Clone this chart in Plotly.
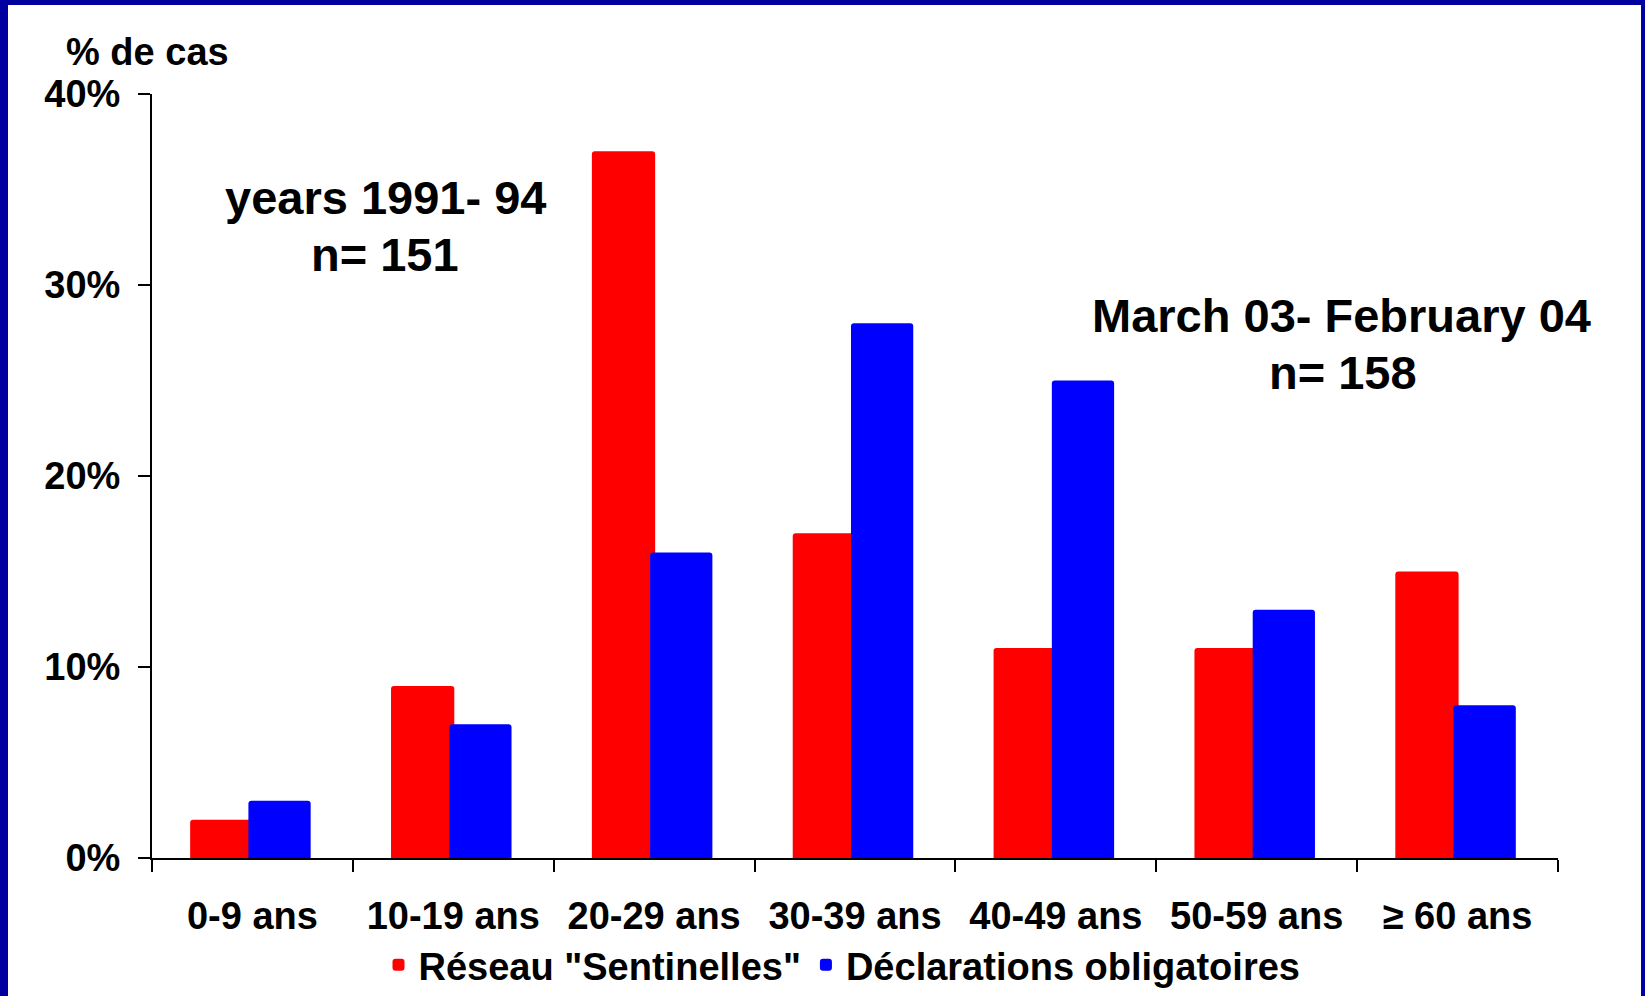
import plotly.graph_objects as go

# ---- data ----
categories = ["0-9 ans", "10-19 ans", "20-29 ans", "30-39 ans", "40-49 ans", "50-59 ans", "≥ 60 ans"]
sentinelles = [2, 9, 37, 17, 11, 11, 15]
declarations = [3, 7, 16, 28, 25, 13, 8]
y_ticks = [0, 10, 20, 30, 40]
y_tick_labels = [f"{v}%" for v in y_ticks]
series_names = ['Réseau "Sentinelles"', "Déclarations obligatoires"]
label_left = ["years 1991- 94", "n= 151"]
label_right = ["March 03- February 04", "n= 158"]

# ---- layout geometry (pixels) ----
W, H = 1645, 996
ML, MR, MT, MB = 152, 87, 94, 138
PW, PH = W - ML - MR, H - MT - MB

def px_x(px):
    return (px - ML) / PW

def px_y(py):
    return (H - MB - py) / PH

FONT = "Liberation Sans, Arial, Helvetica, sans-serif"
RED = "#FF0000"
BLUE = "#0000FF"
BORDER = "#0000A0"

fig = go.Figure()
fig.add_trace(go.Bar(
    x=categories, y=sentinelles, name=series_names[0],
    marker=dict(color=RED, line=dict(width=0), cornerradius=3),
    width=0.315, offset=-0.31,
))
fig.add_trace(go.Bar(
    x=categories, y=declarations, name=series_names[1],
    marker=dict(color=BLUE, line=dict(width=0), cornerradius=3),
    width=0.31, offset=-0.02,
))

ann_font = dict(family=FONT, size=47, color="black", weight="bold")
annotations = [
    dict(text="% de cas", xref="paper", yref="paper", x=px_x(64), y=px_y(52),
         xanchor="left", yanchor="middle", showarrow=False,
         font=dict(family=FONT, size=38, color="black", weight="bold")),
    dict(text=label_left[0], xref="paper", yref="paper", x=px_x(385), y=px_y(197),
         xanchor="center", yanchor="middle", showarrow=False, font=ann_font),
    dict(text=label_left[1], xref="paper", yref="paper", x=px_x(385), y=px_y(254),
         xanchor="center", yanchor="middle", showarrow=False, font=ann_font),
    dict(text=label_right[0], xref="paper", yref="paper", x=px_x(1341), y=px_y(315),
         xanchor="center", yanchor="middle", showarrow=False, font=ann_font),
    dict(text=label_right[1], xref="paper", yref="paper", x=px_x(1343), y=px_y(372),
         xanchor="center", yanchor="middle", showarrow=False, font=ann_font),
]

shapes = [
    # top border
    dict(type="rect", xref="paper", yref="paper", x0=px_x(-10), x1=px_x(W + 10),
         y0=px_y(5), y1=px_y(-10), fillcolor=BORDER, line=dict(width=0), layer="above"),
    # left border
    dict(type="rect", xref="paper", yref="paper", x0=px_x(-10), x1=px_x(8),
         y0=px_y(H + 10), y1=px_y(-10), fillcolor=BORDER, line=dict(width=0), layer="above"),
    # right border
    dict(type="rect", xref="paper", yref="paper", x0=px_x(1641), x1=px_x(W + 10),
         y0=px_y(H + 10), y1=px_y(-10), fillcolor=BORDER, line=dict(width=0), layer="above"),
]

fig.update_layout(
    width=W, height=H,
    margin=dict(l=ML, r=MR, t=MT, b=MB, pad=0, autoexpand=False),
    paper_bgcolor="white", plot_bgcolor="white",
    barmode="overlay",
    font=dict(family=FONT, size=38, color="black", weight="bold"),
    showlegend=True,
    legend=dict(orientation="h", xref="container", yref="container",
                x=842 / W, y=1 - 965 / H, xanchor="center", yanchor="middle",
                font=dict(family=FONT, size=38, color="black", weight="bold"),
                bgcolor="rgba(0,0,0,0)", itemwidth=30, tracegroupgap=0),
    annotations=annotations,
    shapes=shapes,
)

fig.update_xaxes(
    type="category", showgrid=False, zeroline=False, automargin=False,
    showline=True, linecolor="black", linewidth=2,
    ticks="outside", tickson="boundaries", ticklen=12, tickwidth=2, tickcolor="black",
    tickfont=dict(family=FONT, size=38, color="black", weight="bold"),
    ticklabelstandoff=23,
)
fig.update_yaxes(
    range=[0, 40], tickmode="array", tickvals=y_ticks, ticktext=y_tick_labels,
    showgrid=False, zeroline=False, automargin=False,
    showline=True, linecolor="black", linewidth=2,
    ticks="outside", ticklen=12, tickwidth=2, tickcolor="black",
    tickfont=dict(family=FONT, size=38, color="black", weight="bold"),
    ticklabelstandoff=10,
)

fig.write_html(
    "out.html",
    config={"displayModeBar": False},
    post_script="document.body.style.margin='0px';document.body.style.overflow='hidden';",
)
